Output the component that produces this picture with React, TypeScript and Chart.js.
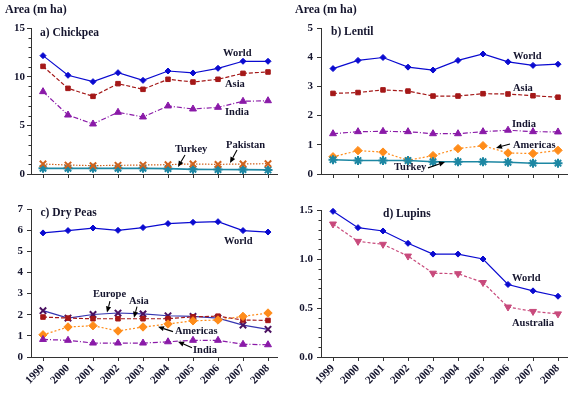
import React, { useEffect, useRef } from "react";
import { Chart, registerables } from "chart.js";

Chart.register(...registerables);

// ---------------- data ----------------
const years = [1999, 2000, 2001, 2002, 2003, 2004, 2005, 2006, 2007, 2008];

const chickWorld = [12.16, 10.14, 9.49, 10.41, 9.62, 10.58, 10.38, 10.86, 11.58, 11.58];
const chickAsia = [11.06, 8.8, 7.98, 9.28, 8.7, 9.73, 9.45, 9.73, 10.34, 10.48];
const chickIndia = [8.46, 6.06, 5.14, 6.34, 5.86, 6.99, 6.68, 6.85, 7.47, 7.53];
const chickPakistan = [1.03, 0.92, 0.86, 0.89, 0.92, 0.96, 1.03, 0.99, 1.03, 1.06];
const chickTurkey = [0.58, 0.58, 0.58, 0.58, 0.58, 0.55, 0.48, 0.46, 0.45, 0.42];

const lentilWorld = [3.61, 3.89, 3.99, 3.66, 3.56, 3.89, 4.11, 3.84, 3.72, 3.76];
const lentilAsia = [2.76, 2.79, 2.88, 2.84, 2.67, 2.67, 2.75, 2.74, 2.68, 2.63];
const lentilIndia = [1.38, 1.45, 1.46, 1.45, 1.38, 1.38, 1.45, 1.5, 1.45, 1.44];
const lentilAmericas = [0.59, 0.8, 0.75, 0.47, 0.63, 0.87, 0.97, 0.72, 0.7, 0.81];
const lentilTurkey = [0.49, 0.46, 0.46, 0.46, 0.42, 0.42, 0.42, 0.4, 0.37, 0.37];

const peaWorld = [5.87, 5.98, 6.1, 5.99, 6.12, 6.31, 6.37, 6.4, 5.98, 5.91];
const peaEurope = [2.19, 1.84, 2.01, 2.08, 2.04, 1.95, 1.92, 1.84, 1.51, 1.31];
const peaAsia = [1.89, 1.84, 1.81, 1.81, 1.81, 1.81, 1.9, 1.93, 1.75, 1.73];
const peaAmericas = [1.05, 1.42, 1.48, 1.23, 1.42, 1.56, 1.71, 1.75, 1.92, 2.08];
const peaIndia = [0.83, 0.79, 0.66, 0.66, 0.66, 0.72, 0.79, 0.79, 0.6, 0.58];

const lupinWorld = [1.486, 1.32, 1.286, 1.16, 1.05, 1.05, 1.0, 0.74, 0.675, 0.62];
const lupinAustralia = [1.357, 1.18, 1.15, 1.03, 0.855, 0.85, 0.76, 0.51, 0.465, 0.44];

// y tick values
const ticksA = [0, 5, 10, 15];
const minorA = [1, 2, 3, 4, 6, 7, 8, 9, 11, 12, 13, 14];
const ticksB = [0, 1, 2, 3, 4, 5];
const ticksC = [0, 1, 2, 3, 4, 5, 6, 7];
const ticksD = [0, 0.5, 1.0, 1.5];
const minorD = [0.1, 0.2, 0.3, 0.4, 0.6, 0.7, 0.8, 0.9, 1.1, 1.2, 1.3, 1.4];

// annotation labels: [text, year, value]
const labelsA: [string, number, number][] = [
  ["World", 2006.2, 12.43],
  ["Asia", 2006.28, 9.25],
  ["India", 2006.28, 6.37],
  ["Turkey", 2004.28, 2.57],
  ["Pakistan", 2006.32, 2.98],
];
const arrowsA: [number, number, number, number][] = [
  [2004.68, 1.95, 2004.4, 0.72],
  [2006.76, 2.47, 2006.48, 1.13],
];
const labelsB: [string, number, number][] = [
  ["World", 2006.2, 4.02],
  ["Asia", 2006.2, 2.95],
  ["India", 2006.16, 1.71],
  ["Americas", 2006.2, 0.98],
  ["Turkey", 2001.44, 0.22],
];
const arrowsB: [number, number, number, number][] = [
  [2006.08, 1.03, 2005.52, 0.89],
  [2002.8, 0.21, 2003.48, 0.41],
];
const labelsC: [string, number, number][] = [
  ["World", 2006.24, 5.45],
  ["Europe", 2001.0, 2.95],
  ["Asia", 2002.44, 2.63],
  ["Americas", 2004.28, 1.2],
  ["India", 2005.0, 0.31],
];
const arrowsC: [number, number, number, number][] = [
  [2001.68, 2.64, 2001.56, 2.11],
  [2002.76, 2.38, 2002.64, 1.86],
  [2004.2, 1.2, 2003.6, 1.43],
  [2004.96, 0.44, 2004.4, 0.72],
];
const labelsD: [string, number, number][] = [
  ["World", 2006.16, 0.806],
  ["Australia", 2006.16, 0.342],
];
const arrowsD: [number, number, number, number][] = [];

// ---------------- styles ----------------
const TEXT = "#15152e";
const AXIS = "#333333";
const FONT = "'Liberation Serif', 'DejaVu Serif', serif";

const BLUE = "#0a0ad0";
const RED = "#a41818";
const PURPLE = "#8a1aa8";
const PAK = "#d0621c";
const TEAL = "#1d87a3";
const ORANGE = "#ff8c1a";
const EUROPE_LINE = "#3535b0";
const EUROPE_PT = "#4a1060";
const PINK = "#c84a7c";

function series(vals: number[], style: any) {
  return {
    data: years.map((yr, i) => ({ x: yr, y: vals[i] })),
    tension: 0,
    fill: false,
    clip: false,
    borderWidth: 1.2,
    pointBorderWidth: 1,
    ...style,
  };
}

const worldStyle = {
  borderColor: BLUE,
  backgroundColor: BLUE,
  pointStyle: "rectRot",
  pointRadius: 3,
  pointBorderColor: BLUE,
  pointBackgroundColor: BLUE,
};
const asiaStyle = {
  borderColor: RED,
  backgroundColor: RED,
  borderDash: [4, 2],
  pointStyle: "rect",
  pointRadius: 3.2,
  pointBorderColor: RED,
  pointBackgroundColor: RED,
};
const indiaStyle = {
  borderColor: PURPLE,
  backgroundColor: PURPLE,
  borderDash: [5, 2, 1, 2],
  pointStyle: "triangle",
  pointRadius: 4,
  pointBorderColor: PURPLE,
  pointBackgroundColor: PURPLE,
};
const pakStyle = {
  borderColor: PAK,
  backgroundColor: PAK,
  borderDash: [1.5, 1.5],
  pointStyle: "crossRot",
  pointRadius: 4.5,
  pointBorderWidth: 2,
  pointBorderColor: PAK,
};
const turkeyStyle = {
  borderColor: TEAL,
  backgroundColor: TEAL,
  borderWidth: 1.6,
  pointStyle: "star",
  pointRadius: 4.5,
  pointBorderWidth: 2,
  pointBorderColor: TEAL,
};
const americasStyle = {
  borderColor: ORANGE,
  backgroundColor: ORANGE,
  borderDash: [2, 2],
  pointStyle: "rectRot",
  pointRadius: 4.2,
  pointBorderColor: ORANGE,
  pointBackgroundColor: ORANGE,
};
const europeStyle = {
  borderColor: EUROPE_LINE,
  backgroundColor: EUROPE_PT,
  pointStyle: "crossRot",
  pointRadius: 4.5,
  pointBorderWidth: 2,
  pointBorderColor: EUROPE_PT,
};
const australiaStyle = {
  borderColor: PINK,
  backgroundColor: PINK,
  borderDash: [3, 2],
  pointStyle: "triangle",
  pointRotation: 180,
  pointRadius: 4,
  pointBorderColor: PINK,
  pointBackgroundColor: PINK,
};

type PanelSpec = {
  left: number;
  top: number;
  width: number;
  height: number;
  padTop: number;
  padRight: number;
  xHeight: number;
  showX: boolean;
  areaTitle: boolean;
  title: string;
  titlePos: [number, number];
  yMax: number;
  yTicks: number[];
  yMinor: number[];
  yFmt: (v: number) => string;
  yLabelPad: number;
  datasets: any[];
  labels: [string, number, number][];
  arrows: [number, number, number, number][];
};

const panels: PanelSpec[] = [
  {
    left: 0, top: 0, width: 290, height: 195,
    padTop: 28, padRight: 13, xHeight: 21, showX: false, areaTitle: true,
    title: "a) Chickpea", titlePos: [1998.88, 14.49],
    yMax: 15, yTicks: ticksA, yMinor: minorA, yFmt: (v) => String(v), yLabelPad: 2,
    datasets: [
      series(chickPakistan, pakStyle),
      series(chickTurkey, turkeyStyle),
      series(chickIndia, indiaStyle),
      series(chickAsia, asiaStyle),
      series(chickWorld, worldStyle),
    ],
    labels: labelsA, arrows: arrowsA,
  },
  {
    left: 290, top: 0, width: 295, height: 195,
    padTop: 28, padRight: 18, xHeight: 21, showX: false, areaTitle: true,
    title: "b) Lentil", titlePos: [1998.92, 4.86],
    yMax: 5, yTicks: ticksB, yMinor: [], yFmt: (v) => String(v), yLabelPad: 4,
    datasets: [
      series(lentilTurkey, turkeyStyle),
      series(lentilAmericas, americasStyle),
      series(lentilIndia, indiaStyle),
      series(lentilAsia, asiaStyle),
      series(lentilWorld, worldStyle),
    ],
    labels: labelsB, arrows: arrowsB,
  },
  {
    left: 0, top: 195, width: 290, height: 202,
    padTop: 14, padRight: 13, xHeight: 40, showX: true, areaTitle: false,
    title: "c) Dry Peas", titlePos: [1998.9, 6.8],
    yMax: 7, yTicks: ticksC, yMinor: [], yFmt: (v) => String(v), yLabelPad: 4,
    datasets: [
      series(peaIndia, indiaStyle),
      series(peaAmericas, americasStyle),
      series(peaAsia, asiaStyle),
      series(peaEurope, europeStyle),
      series(peaWorld, worldStyle),
    ],
    labels: labelsC, arrows: arrowsC,
  },
  {
    left: 290, top: 195, width: 295, height: 202,
    padTop: 15, padRight: 18, xHeight: 40, showX: true, areaTitle: false,
    title: "d) Lupins", titlePos: [2001.0, 1.46],
    yMax: 1.5, yTicks: ticksD, yMinor: minorD, yFmt: (v) => v.toFixed(1), yLabelPad: 4,
    datasets: [
      series(lupinAustralia, australiaStyle),
      series(lupinWorld, worldStyle),
    ],
    labels: labelsD, arrows: arrowsD,
  },
];

function makeAnnot(spec: PanelSpec) {
  return {
    id: "annot",
    afterDatasetsDraw(chart: any) {
      const { ctx, chartArea } = chart;
      const xs = chart.scales.x;
      const ys = chart.scales.y;
      ctx.save();
      // minor ticks
      ctx.strokeStyle = AXIS;
      ctx.lineWidth = 1;
      for (const v of spec.yMinor) {
        const py = Math.round(ys.getPixelForValue(v)) + 0.5;
        ctx.beginPath();
        ctx.moveTo(chartArea.left - 2.5, py);
        ctx.lineTo(chartArea.left, py);
        ctx.stroke();
      }
      ctx.fillStyle = TEXT;
      ctx.textBaseline = "middle";
      ctx.textAlign = "left";
      if (spec.areaTitle) {
        ctx.font = `bold 12px ${FONT}`;
        ctx.fillText("Area (m ha)", chartArea.left - 26, chartArea.top - 18);
      }
      ctx.font = `bold 11.5px ${FONT}`;
      ctx.fillText(spec.title, xs.getPixelForValue(spec.titlePos[0]), ys.getPixelForValue(spec.titlePos[1]));
      ctx.font = `bold 10.5px ${FONT}`;
      for (const [t, xv, yv] of spec.labels) {
        ctx.fillText(t, xs.getPixelForValue(xv), ys.getPixelForValue(yv));
      }
      // arrows
      ctx.strokeStyle = "#000";
      ctx.fillStyle = "#000";
      ctx.lineWidth = 1.1;
      for (const [x1, y1, x2, y2] of spec.arrows) {
        const p1x = xs.getPixelForValue(x1);
        const p1y = ys.getPixelForValue(y1);
        const p2x = xs.getPixelForValue(x2);
        const p2y = ys.getPixelForValue(y2);
        const ang = Math.atan2(p2y - p1y, p2x - p1x);
        const hl = 6;
        const hw = 2.6;
        const bx = p2x - hl * Math.cos(ang);
        const by = p2y - hl * Math.sin(ang);
        ctx.beginPath();
        ctx.moveTo(p1x, p1y);
        ctx.lineTo(bx, by);
        ctx.stroke();
        ctx.beginPath();
        ctx.moveTo(p2x, p2y);
        ctx.lineTo(bx + hw * Math.sin(ang), by - hw * Math.cos(ang));
        ctx.lineTo(bx - hw * Math.sin(ang), by + hw * Math.cos(ang));
        ctx.closePath();
        ctx.fill();
      }
      ctx.restore();
    },
  };
}

function Panel({ spec }: { spec: PanelSpec }) {
  const ref = useRef<HTMLCanvasElement | null>(null);
  useEffect(() => {
    if (!ref.current) return;
    const tickFont = { family: FONT, size: 11, weight: "bold" as const };
    const chart = new Chart(ref.current, {
      type: "line",
      data: { datasets: spec.datasets },
      options: {
        animation: false,
        responsive: false,
        devicePixelRatio: 1,
        events: [],
        layout: { padding: { top: spec.padTop, right: spec.padRight, left: 0, bottom: 0 } },
        plugins: { legend: { display: false }, tooltip: { enabled: false }, title: { display: false } },
        scales: {
          x: {
            type: "linear",
            min: 1998.52,
            max: 2008.36,
            afterBuildTicks: (s: any) => {
              s.ticks = years.map((v) => ({ value: v }));
            },
            afterFit: (s: any) => {
              s.height = spec.xHeight;
            },
            grid: { display: true, drawOnChartArea: false, drawTicks: true, tickLength: 4, color: AXIS },
            border: { display: true, color: AXIS, width: 1 },
            ticks: {
              display: spec.showX,
              autoSkip: false,
              maxRotation: 45,
              minRotation: 45,
              padding: 1,
              font: tickFont,
              color: TEXT,
              callback: (v: any) => String(v),
            },
          },
          y: {
            type: "linear",
            min: 0,
            max: spec.yMax,
            afterBuildTicks: (s: any) => {
              s.ticks = spec.yTicks.map((v) => ({ value: v }));
            },
            afterFit: (s: any) => {
              s.width = 31;
            },
            grid: { display: true, drawOnChartArea: false, drawTicks: true, tickLength: 4, color: AXIS },
            border: { display: true, color: AXIS, width: 1 },
            ticks: {
              padding: spec.yLabelPad,
              font: tickFont,
              color: TEXT,
              callback: (v: any) => spec.yFmt(Number(v)),
            },
          },
        },
      },
      plugins: [makeAnnot(spec)],
    });
    return () => chart.destroy();
  }, [spec]);
  return (
    <canvas
      ref={ref}
      width={spec.width}
      height={spec.height}
      style={{ position: "absolute", left: spec.left, top: spec.top, width: spec.width, height: spec.height }}
    />
  );
}

export default function App() {
  useEffect(() => {
    document.body.style.margin = "0";
    document.body.style.background = "#ffffff";
  }, []);
  return (
    <div style={{ position: "relative", width: 585, height: 397, background: "#fff", overflow: "hidden" }}>
      {panels.map((p, i) => (
        <Panel key={i} spec={p} />
      ))}
    </div>
  );
}
